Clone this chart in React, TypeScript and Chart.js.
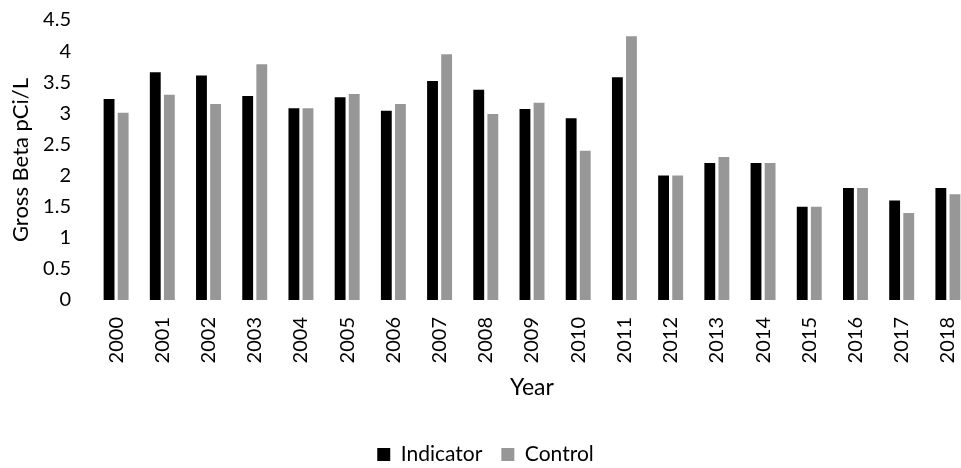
import React, { useEffect, useRef } from "react";
import { Chart, registerables } from "chart.js";

Chart.register(...registerables);

const years = ["2000","2001","2002","2003","2004","2005","2006","2007","2008","2009","2010","2011","2012","2013","2014","2015","2016","2017","2018"];
const indicator = [3.23,3.66,3.61,3.28,3.08,3.26,3.04,3.52,3.38,3.07,2.92,3.58,2.0,2.2,2.2,1.5,1.8,1.6,1.8];
const control = [3.01,3.30,3.15,3.79,3.08,3.31,3.15,3.95,2.99,3.17,2.40,4.24,2.0,2.3,2.2,1.5,1.8,1.4,1.7];
const yTicksMax = 4.5;
const yStep = 0.5;

const FONT = "Lato, 'Open Sans', sans-serif";
const CW = 971;
const CH = 475;

export default function App() {
  const ref = useRef<HTMLCanvasElement | null>(null);
  useEffect(() => {
    if (!ref.current) return;
    const chart = new Chart(ref.current, {
      type: "bar",
      data: {
        labels: years,
        datasets: [
          { label: "Indicator", data: indicator, backgroundColor: "#000000", borderWidth: 0 },
          { label: "Control", data: control, backgroundColor: "#979797", borderWidth: 0 },
        ],
      },
      options: {
        animation: false,
        responsive: false,
        maintainAspectRatio: false,
        layout: { padding: { top: 20, left: 0, right: 0, bottom: 0 } },
        datasets: { bar: { categoryPercentage: 0.61, barPercentage: 0.77 } } as any,
        plugins: {
          legend: {
            position: "bottom",
            labels: {
              boxWidth: 13,
              boxHeight: 13,
              padding: 19,
              color: "#000",
              font: { family: FONT, size: 21 },
            },
          },
          tooltip: { enabled: false },
        },
        scales: {
          x: {
            grid: { display: false, drawTicks: false },
            border: { display: false },
            afterFit: (s: any) => {
              s.height = 125;
              s.paddingLeft = 0;
              s.paddingRight = 0;
            },
            ticks: {
              color: "#000",
              font: { family: FONT, size: 20 },
              maxRotation: 90,
              minRotation: 90,
              padding: 17,
              autoSkip: false,
            },
            title: {
              display: true,
              text: "Year",
              color: "#000",
              font: { family: FONT, size: 23 },
              padding: { top: 0, bottom: 24 },
            },
          },
          y: {
            min: 0,
            max: yTicksMax,
            grid: { display: false, drawTicks: false },
            border: { display: false },
            afterFit: (s: any) => {
              s.width = 93;
              s.paddingTop = 0;
              s.paddingBottom = 0;
            },
            ticks: {
              stepSize: yStep,
              color: "#000",
              font: { family: FONT, size: 20 },
              padding: 22,
              callback: (v: any) => String(Math.round(Number(v) * 10) / 10),
            },
            title: {
              display: true,
              text: "Gross Beta pCi/L",
              color: "#000",
              font: { family: FONT, size: 22 },
              padding: { top: 8, bottom: 0 },
            },
          },
        },
      },
    });
    return () => chart.destroy();
  }, []);
  return (
    <div style={{ position: "fixed", left: 0, top: 0, width: 961, height: 468, overflow: "hidden", background: "#fff" }}>
      <canvas ref={ref} width={CW} height={CH} style={{ display: "block", width: CW, height: CH }} />
    </div>
  );
}
